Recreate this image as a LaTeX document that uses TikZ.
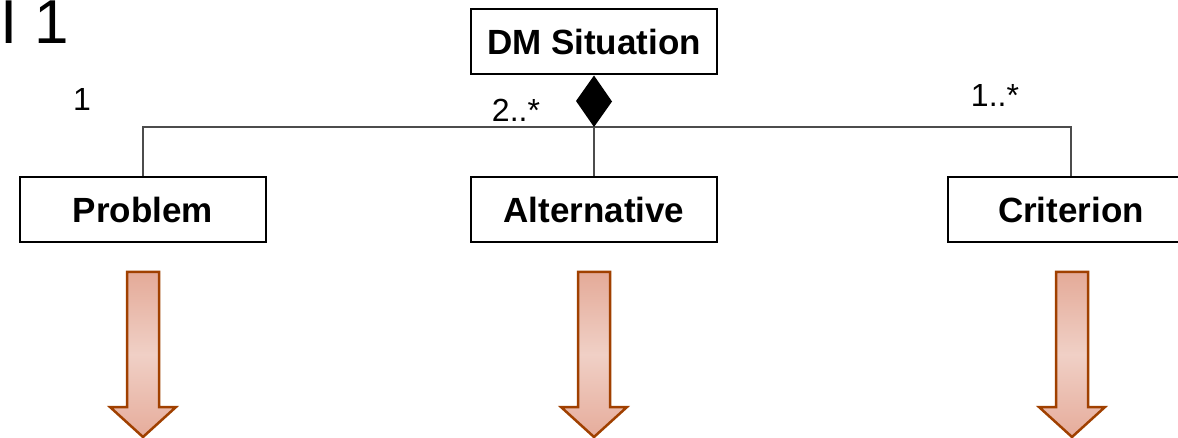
\documentclass[tikz,border=0pt]{standalone}
\usepackage{fontspec}
\setmainfont{Liberation Sans}
\begin{document}
\begin{tikzpicture}[x=1pt,y=-1pt,
  umlbox/.style={draw=black,line width=2pt,fill=white,minimum width=246pt,minimum height=65pt,inner sep=0pt,font=\fontsize{35}{38}\selectfont\bfseries},
  mult/.style={inner sep=0pt,font=\fontsize{32}{34}\selectfont},
  conn/.style={draw=black!70,line width=1.6pt},
  blockarrow/.style={draw={rgb,255:red,160;green,64;blue,0},line width=2.5pt,line join=miter,
    top color={rgb,255:red,228;green,170;blue,152},bottom color={rgb,255:red,230;green,172;blue,155},
    middle color={rgb,255:red,240;green,208;blue,198}}
]
\useasboundingbox (0,0) rectangle (1178,438);
\clip (0,0) rectangle (1178,438);
\node[inner sep=0pt,anchor=base west,font=\fontsize{62}{64}\selectfont] (title) at (0,44) {I 1};
\node[umlbox] (dm) at (594,42) {DM Situation};
\node[umlbox] (prob) at (143,209.5) {Problem};
\node[umlbox] (alt) at (594,209.5) {Alternative};
\node[umlbox] (crit) at (1071,209.5) {Criterion};
\coordinate (dj) at (594,127);
\draw[conn] (prob.north) |- (dj) -| (crit.north);
\draw[conn] (dj) -- (alt.north);
\fill[black] (dm.south) -- ++(18,26) -- (dj) -- ++(-18,-26) -- cycle;
\node[mult] (m1) at (82,99) {1};
\node[mult] (m2) at (516,110) {2..*};
\node[mult] (m3) at (995,95) {1..*};
\foreach \cx/\nm in {143/a1,594/a2,1072/a3}{
  \coordinate (\nm) at (\cx,272);
  \path[blockarrow] (\nm) ++(-16,0) -- ++(32,0) -- ++(0,135) -- ++(17,0) -- ++(-33,30) -- ++(-33,-30) -- ++(17,0) -- cycle;
}
\end{tikzpicture}
\end{document}
